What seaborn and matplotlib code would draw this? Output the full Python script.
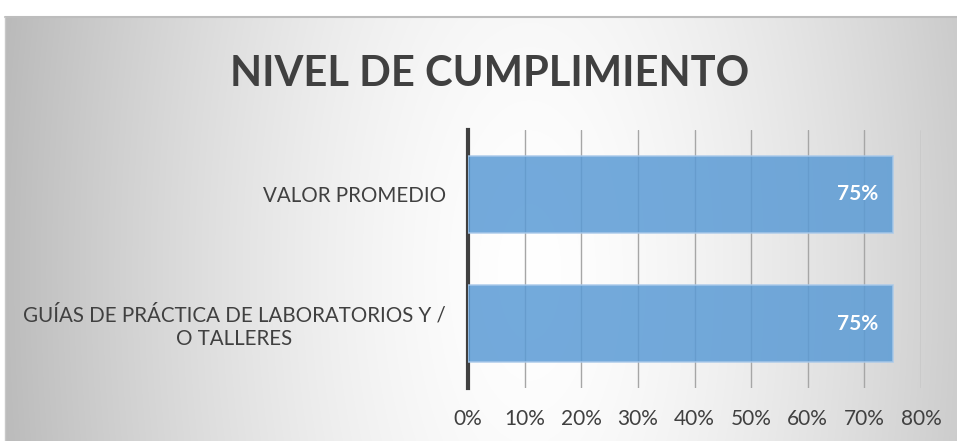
import numpy as np
import pandas as pd
import matplotlib
matplotlib.use("Agg")
import matplotlib.pyplot as plt
import seaborn as sns

categories = ["VALOR PROMEDIO", "GUÍAS DE PRÁCTICA DE LABORATORIOS Y /\nO TALLERES"]
values = [75, 75]
xticks = [0, 10, 20, 30, 40, 50, 60, 70, 80]
xtick_labels = [f"{v}%" for v in xticks]
title = "NIVEL DE CUMPLIMIENTO"

sns.set_theme(style="white")
plt.rcParams['font.family'] = ['Lato', 'DejaVu Sans']

W, H = 957, 441
fig = plt.figure(figsize=(W / 100, H / 100), dpi=100)
fig.patch.set_facecolor("white")

# background radial gradient
bg = fig.add_axes([5 / W, 0, 1 - 5 / W, (H - 17) / H], zorder=0)
ny, nx = 212, 476
yy, xx = np.mgrid[0:ny, 0:nx]
cx, cy = nx * 0.55, ny * 0.6
d = np.sqrt(((xx - cx) / (nx * 0.52)) ** 2 + ((yy - cy) / (ny * 2.5)) ** 2)
val = 1.0 - 0.24 * np.clip(d, 0, 1.2) ** 1.5
img = np.dstack([val, val, val])
bg.imshow(np.clip(img, 0, 1), aspect="auto", extent=[0, 1, 0, 1], interpolation="bilinear")
bg.set_xlim(0, 1); bg.set_ylim(0, 1)
bg.axis("off")
fig.add_artist(plt.Line2D([5 / W, 1], [(H - 17) / H, (H - 17) / H], color="#bdbdbd", lw=1.5))
fig.add_artist(plt.Line2D([5 / W, 5 / W], [0, (H - 17) / H], color="#c8c8c8", lw=1.0))

ax = fig.add_axes([468 / W, (H - 388) / H, (921 - 468) / W, (388 - 130) / H], zorder=2)
ax.patch.set_alpha(0)

df = pd.DataFrame({"cat": categories, "val": values})
sns.barplot(data=df, x="val", y="cat", orient="h", color="#5B9BD5", width=0.6,
            saturation=1, alpha=0.85, edgecolor="#a9c9ea", linewidth=1.2, ax=ax, zorder=3)

ax.set_xlim(0, 80)
ax.set_ylim(1.5, -0.5)
ax.set_xticks(xticks)
ax.set_xticklabels(xtick_labels)
ax.xaxis.grid(True, color="#a6a6a6", lw=1.0, zorder=0)
ax.set_axisbelow(True)
ax.tick_params(axis="x", length=0, pad=15, labelsize=15, labelcolor="#404040")
ax.tick_params(axis="y", length=0, pad=16, labelsize=14.8, labelcolor="#404040")
for lbl in ax.get_yticklabels():
    lbl.set_multialignment("center")
ax.set_xlabel("")
ax.set_ylabel("")
for s in ["top", "right", "bottom"]:
    ax.spines[s].set_visible(False)
ax.spines["left"].set_color("#404040")
ax.spines["left"].set_linewidth(3)

for i, v in enumerate(values):
    ax.text(v - 2.5, i, f"{v}%", ha="right", va="center", color="white",
            fontsize=15, fontweight="bold", zorder=5)

fig.text(490 / W, (H - 74) / H, title, ha="center", va="center",
         fontsize=30, fontweight="bold", color="#404040")

fig.savefig("out.png", dpi=100)
